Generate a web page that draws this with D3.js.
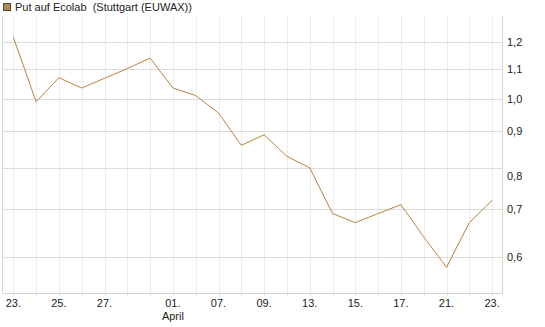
<!DOCTYPE html>
<html>
<head>
<meta charset="utf-8">
<script src="https://cdn.jsdelivr.net/npm/d3@7"></script>
<style>
  body { margin: 0; background: #fff; }
  text { font-family: "Liberation Sans", Arial, sans-serif; font-size: 11px; fill: #222; }
</style>
</head>
<body>
<script>
var width = 545,
    height = 327;

// trading days, 23.03. - 23.04.
var days = ["23.", "24.", "25.", "26.", "27.", "30.", "31.", "01.", "02.", "07.", "08.",
            "09.", "10.", "13.", "14.", "15.", "16.", "17.", "20.", "21.", "22.", "23."];
var labelIdx = [0, 2, 4, 7, 9, 11, 13, 15, 17, 19, 21];
var monthLabels = [{ idx: 7, text: "April" }];

var prices = [1.22, 0.99, 1.07, 1.035, 1.068, 1.102, 1.14, 1.035, 1.01, 0.955, 0.86,
              0.89, 0.83, 0.80, 0.69, 0.67, 0.69, 0.71, 0.64, 0.58, 0.67, 0.72];

var yTicks = [0.6, 0.7, 0.8, 0.9, 1.0, 1.1, 1.2];

var title = "Put auf Ecolab  (Stuttgart (EUWAX))";

// plot box (window.top is reserved, so no plain "top")
var plotL = 2.5, plotR = 502.5, plotT = 16, plotB = 293.5;

var x = d3.scaleLinear()
    .domain([0, days.length - 1])
    .range([13.3, 492.1]);

var y = d3.scaleLog()
    .domain([0.533, 1.306])
    .range([plotB, plotT]);

var svg = d3.select("body").append("svg")
    .attr("width", width)
    .attr("height", height);

// vertical grid
svg.append("g")
  .selectAll("line")
  .data(days)
  .enter().append("line")
    .attr("x1", function(d, i) { return Math.round(x(i)) + 0.5; })
    .attr("x2", function(d, i) { return Math.round(x(i)) + 0.5; })
    .attr("y1", plotT)
    .attr("y2", plotB + 3)
    .attr("stroke", "#ececec");

// horizontal grid
svg.append("g")
  .selectAll("line")
  .data(yTicks)
  .enter().append("line")
    .attr("x1", plotL)
    .attr("x2", plotR)
    .attr("y1", function(d) { return Math.round(y(d)) + 0.5; })
    .attr("y2", function(d) { return Math.round(y(d)) + 0.5; })
    .attr("stroke", "#dcdcdc");

// frame (left, bottom, right)
svg.append("path")
    .attr("d", "M" + plotL + "," + plotT + "V" + plotB + "H" + plotR + "V" + plotT)
    .attr("fill", "none")
    .attr("stroke", "#d4d4d4");

// price line
var line = d3.line()
    .x(function(d, i) { return x(i); })
    .y(function(d) { return y(d); });

svg.append("path")
    .datum(prices)
    .attr("d", line)
    .attr("fill", "none")
    .attr("stroke", "#b8843f")
    .attr("stroke-width", 1);

// y labels (right side)
svg.append("g")
  .selectAll("text")
  .data(yTicks)
  .enter().append("text")
    .attr("x", 507)
    .attr("y", function(d) { return y(d) + 4 + (d === 0.8 ? 8 : 0); })
    .text(function(d) { return d3.format(".1f")(d).replace(".", ","); });

// x labels
svg.append("g")
  .selectAll("text")
  .data(labelIdx)
  .enter().append("text")
    .attr("x", function(i) { return x(i); })
    .attr("y", 306.5)
    .attr("text-anchor", "middle")
    .text(function(i) { return days[i]; });

svg.append("g")
  .selectAll("text")
  .data(monthLabels)
  .enter().append("text")
    .attr("x", function(d) { return x(d.idx); })
    .attr("y", 319.5)
    .attr("text-anchor", "middle")
    .text(function(d) { return d.text; });

// legend
svg.append("rect")
    .attr("x", 3.5).attr("y", 3.5)
    .attr("width", 7).attr("height", 7)
    .attr("fill", "#b58a50")
    .attr("stroke", "#4a4a4a");

svg.append("text")
    .attr("x", 15)
    .attr("y", 11)
    .attr("xml:space", "preserve")
    .style("white-space", "pre")
    .text(title);
</script>
</body>
</html>
